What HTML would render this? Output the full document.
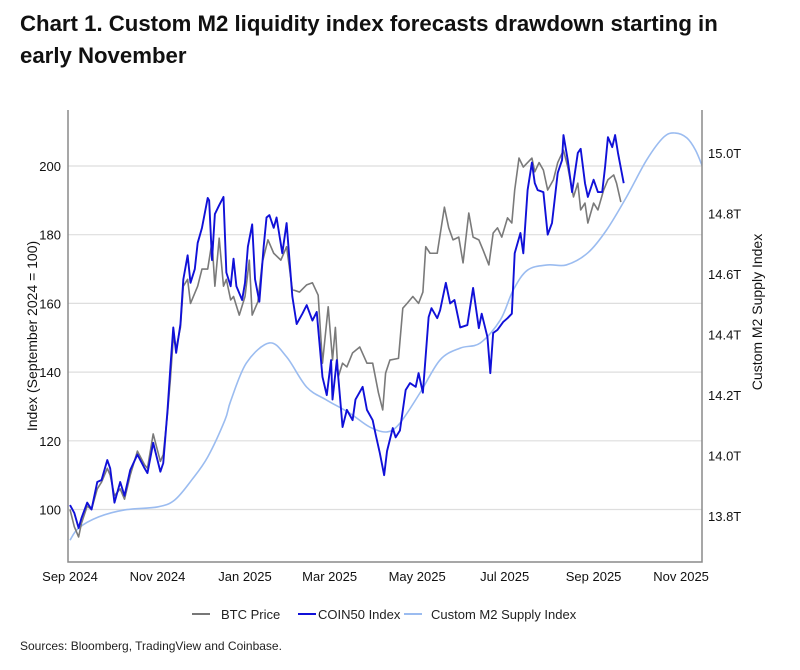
<!DOCTYPE html>
<html><head><meta charset="utf-8">
<style>
html,body{margin:0;padding:0;background:#fff;}
body{width:800px;height:665px;overflow:hidden;font-family:"Liberation Sans",sans-serif;}
</style></head>
<body>
<svg id="chart" width="800" height="665" xmlns="http://www.w3.org/2000/svg" font-family="Liberation Sans, sans-serif">
<text x="20" y="31" font-size="22.2" font-weight="bold" fill="#111">Chart 1. Custom M2 liquidity index forecasts drawdown starting in</text>
<text x="20" y="63" font-size="22.2" font-weight="bold" fill="#111">early November</text>
<g id="grid"></g>
<g id="series"></g>
<g id="axes"></g>
<text transform="translate(37,336) rotate(-90)" text-anchor="middle" font-size="14" fill="#111">Index (September 2024 = 100)</text>
<text transform="translate(762,312) rotate(-90)" text-anchor="middle" font-size="14" fill="#111">Custom M2 Supply Index</text>
<g font-size="13" fill="#222">
  <g><line x1="192" y1="614" x2="210" y2="614" stroke="#777" stroke-width="2"/><text x="221" y="619">BTC Price</text></g>
  <g><line x1="298" y1="614" x2="316" y2="614" stroke="#1010d8" stroke-width="2"/><text x="318" y="619">COIN50 Index</text></g>
  <g><line x1="404" y1="614" x2="422" y2="614" stroke="#9bbcf0" stroke-width="2"/><text x="431" y="619">Custom M2 Supply Index</text></g>
</g>
<text x="20" y="650" font-size="12" fill="#222">Sources: Bloomberg, TradingView and Coinbase.</text>
</svg>
<script>
// Days since 2024-09-01
const xTickLabels = ["Sep 2024","Nov 2024","Jan 2025","Mar 2025","May 2025","Jul 2025","Sep 2025","Nov 2025"];
const xTickDays = [0,61,122,181,242,303,365,426];
const leftTicks = [100,120,140,160,180,200];
const rightTicks = [13.8,14.0,14.2,14.4,14.6,14.8,15.0];
const rightTickLabels = ["13.8T","14.0T","14.2T","14.4T","14.6T","14.8T","15.0T"];

const coinDays = [0,3,6,8,12,15,19,22,26,28,31,35,38,42,47,52,54,58,63,65,68,70,72,74,77,79,82,84,87,89,92,96,97,99,101,104,107,109,112,114,116,120,122,124,127,129,132,135,137,139,142,144,148,151,155,158,162,165,169,172,176,179,182,183,186,190,193,197,199,204,207,211,213,216,219,221,225,227,230,234,237,241,243,246,250,252,256,258,262,265,268,272,277,281,285,287,291,293,295,298,302,305,308,310,314,316,319,322,324,326,330,333,336,340,343,344,347,350,354,356,359,361,365,368,371,373,375,378,380,382,386];
const coinValues = [101.3,99,94.6,97.5,102,100,108,108.6,114.4,112,102,108,104,111.5,116,112,110.6,119.4,111,113.5,129,141.5,153,145.6,154,167,174,166,170,177.6,182,190.7,190,172.6,186,188.6,191,169,165,173,165,161,166,176.5,183,167,160.5,176.5,185,185.7,182,185,174.6,183.4,162,154,157,159.5,155,157.5,138.6,133.3,143.5,132,143.5,124,129,126,132,135.7,129,126,122,116.4,110,117,123.7,121,123,134.8,136.8,135.7,139.7,134,156,158.6,155.7,158,166,160,161,153,153.7,164.5,152.8,157,150.2,139.7,151.4,152.3,154.6,155.7,157,174.6,180.5,174.6,193,201,195,193,192.4,180,183.4,198,201.7,209,201.7,192.4,203.8,205,195,191,196,192.4,192.4,199.7,208.4,205.5,209,203.8,195];

const btcDays = [0,3,6,8,12,15,19,22,26,28,31,35,38,42,47,52,54,58,63,65,68,70,72,74,77,79,82,84,87,89,92,96,99,101,104,107,109,112,114,118,122,125,127,131,134,138,142,147,151,155,160,165,169,173,176,180,183,185,187,190,193,197,202,207,211,215,218,220,223,229,232,235,239,243,246,248,251,256,258,261,264,267,271,274,278,281,285,288,292,295,298,301,305,308,310,313,316,319,322,324,327,330,333,337,340,344,347,351,354,356,359,361,365,368,372,375,379,381,384];
const btcValues = [100,95,92,96,101,100,106,108,112,110,104,106,103,110,117,113,112,122,114,116,128,138,150,147,153,165,167,160,163,165,170,170,178,165,179,165,167,161,162,156.6,162,172.6,156.6,160.5,171.8,178.5,174.6,172.6,176.5,164,163.3,165.4,166,162.4,142.6,159,143.5,153,138.6,142.6,141.5,145.6,147.3,142.6,142.6,134,129,139.7,143.5,144,158.6,160,162,160,163.3,176.5,174.6,174.6,180,188,182,178.5,179.3,171.8,186.3,179.3,178.5,175.5,171.2,180.5,182,179.3,184.9,183.4,193,202.3,199.7,201,202.3,198.3,201,198.8,193,196,201,204.6,199.7,191,195,187.2,189.2,183.4,189.2,187.2,193,196,197.4,195,189.5];

const m2Days = [0,6,20,38,61,73,85,96,108,112,123,139,151,165,179,195,209,221,230,244,258,272,286,300,309,319,333,346,361,374,388,402,414,422,430,436,441];
const m2Values = [13.72,13.76,13.797,13.82,13.83,13.853,13.92,13.995,14.117,14.18,14.306,14.372,14.326,14.226,14.183,14.14,14.094,14.078,14.107,14.207,14.316,14.355,14.372,14.448,14.547,14.613,14.63,14.63,14.67,14.745,14.855,14.977,15.053,15.066,15.05,15.01,14.954];

const X0 = 68, X1 = 702, Y0 = 110, Y1 = 562;
function xScale(d){ return 70 + d*1.4345; }
function yLeft(v){ return 166 + (200 - v)*3.435; }
function yRight(t){ return 153 + (15.0 - t)*302.5; }

const NS = "http://www.w3.org/2000/svg";
function mk(tag, attrs, parent){
  const e = document.createElementNS(NS, tag);
  for (const k in attrs) e.setAttribute(k, attrs[k]);
  parent.appendChild(e); return e;
}
const grid = document.getElementById('grid');
const axes = document.getElementById('axes');
const series = document.getElementById('series');

leftTicks.forEach(v => {
  const y = yLeft(v);
  const g = mk('line', {x1:X0, x2:X1, y1:y, y2:y, stroke:'#dedede', 'stroke-width':1.2}, grid);
  
  
  const t = mk('text', {x:61, y:y+5, 'text-anchor':'end', 'font-size':13, fill:'#111'}, axes);
  t.textContent = v;
  
  
});
rightTicks.forEach((v, i) => {
  const t = mk('text', {x:708, y:yRight(v)+5, 'font-size':13, fill:'#111'}, axes);
  t.textContent = rightTickLabels[i];
  
  
});
xTickDays.forEach((d, i) => {
  const t = mk('text', {x:xScale(d), y:581, 'text-anchor':'middle', 'font-size':13, fill:'#111'}, axes);
  t.textContent = xTickLabels[i];
  
  
});
const axL = mk('path', {d:`M${X0},${Y0} V${Y1} H${X1} V${Y0}`, fill:'none', stroke:'#8a8a8a', 'stroke-width':1.5}, axes);



const defs = mk('defs', {}, document.getElementById('chart'));
const cp = mk('clipPath', {id:'plotclip'}, defs);
mk('rect', {x:X0, y:Y0, width:X1-X0, height:Y1-Y0}, cp);
series.setAttribute('clip-path', 'url(#plotclip)');

function smoothPath(pts){
  let d = `M${pts[0][0]},${pts[0][1]}`;
  for (let i=0;i<pts.length-1;i++){
    const p0 = pts[i-1]||pts[i], p1 = pts[i], p2 = pts[i+1], p3 = pts[i+2]||p2;
    const c1 = [p1[0]+(p2[0]-p0[0])/6, p1[1]+(p2[1]-p0[1])/6];
    const c2 = [p2[0]-(p3[0]-p1[0])/6, p2[1]-(p3[1]-p1[1])/6];
    d += ` C${c1[0]},${c1[1]} ${c2[0]},${c2[1]} ${p2[0]},${p2[1]}`;
  }
  return d;
}
const m2Pts = m2Days.map((d,i)=>[xScale(d), yRight(m2Values[i])]);
const m2 = mk('path', {d:smoothPath(m2Pts), fill:'none', stroke:'#9bbcf0', 'stroke-width':1.6}, series);



const btc = mk('polyline', {points: btcDays.map((d,i)=>xScale(d)+','+yLeft(btcValues[i])).join(' '), fill:'none', stroke:'#7a7a7a', 'stroke-width':1.6, 'stroke-linejoin':'round'}, series);



const coin = mk('polyline', {points: coinDays.map((d,i)=>xScale(d)+','+yLeft(coinValues[i])).join(' '), fill:'none', stroke:'#1010d8', 'stroke-width':1.9, 'stroke-linejoin':'round'}, series);


</script>
</body></html>
